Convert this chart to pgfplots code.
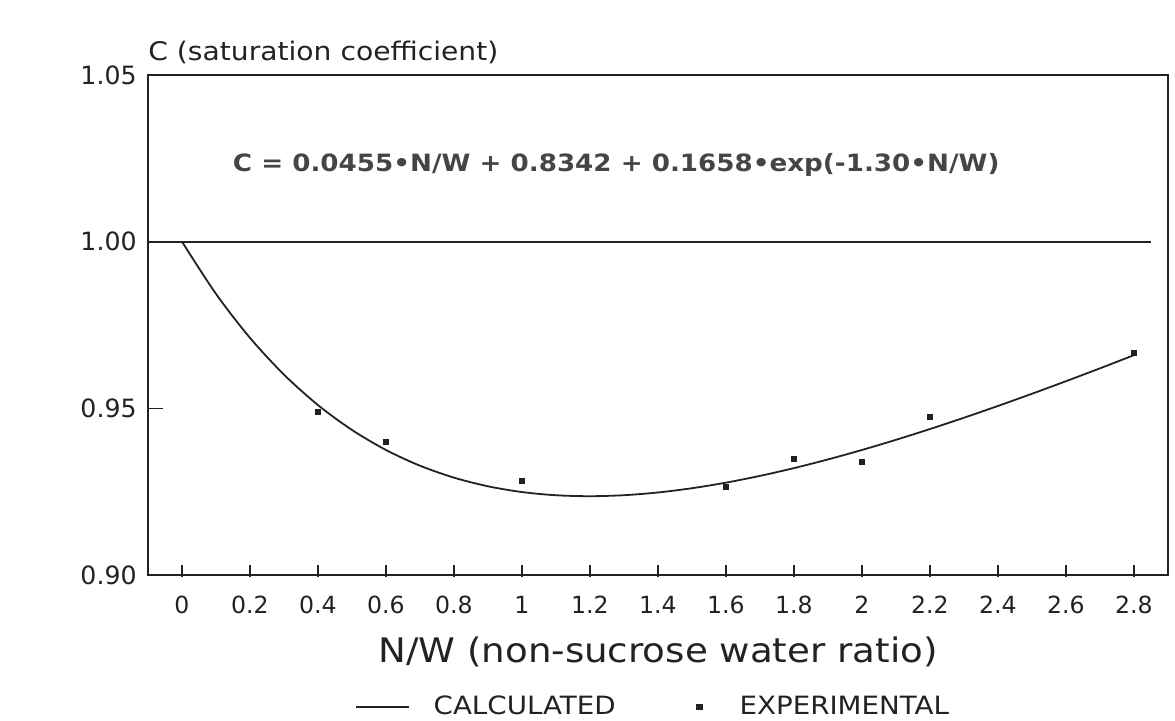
\documentclass[border=0pt]{standalone}
\usepackage{pgfplots}
\pgfplotsset{compat=1.18}
\usepackage{fontspec}
\setmainfont{DejaVu Sans}[FakeStretch=1.1]
\newfontfamily\tickfont{DejaVu Sans}
\definecolor{ink}{HTML}{222222}
\definecolor{eqink}{HTML}{454545}
\begin{document}
\begin{tikzpicture}
\useasboundingbox (-74pt,-72.5pt) rectangle (513.5pt,287.5pt);
\begin{axis}[
  at={(0,0)}, anchor=south west,
  width=510pt, height=250pt, scale only axis,
  xmin=-0.1, xmax=2.9, ymin=0.90, ymax=1.05,
  xtick={0,0.2,0.4,0.6,0.8,1,1.2,1.4,1.6,1.8,2,2.2,2.4,2.6,2.8},
  xticklabels={0,0.2,0.4,0.6,0.8,1,1.2,1.4,1.6,1.8,2,2.2,2.4,2.6,2.8},
  ytick={0.90,0.95,1.00,1.05},
  yticklabels={0.90,0.95,1.00,1.05},
  tick align=inside, tick pos=left,
  xtick style={/pgfplots/major tick length=6pt, yshift=-1pt, line width=0.8pt, color=ink},
  ytick style={/pgfplots/major tick length=7.5pt, line width=0.8pt, color=ink},
  axis line style={line width=1pt, color=ink},
  xticklabel style={anchor=base, inner sep=0pt, yshift=-19pt, font=\tickfont\fontsize{11.8}{13}\selectfont, text=ink},
  yticklabel style={anchor=east, inner sep=0pt, xshift=-5.5pt, font=\tickfont\fontsize{12.6}{14}\selectfont, text=ink},
  /pgf/number format/assume math mode=true,
  clip=false,
  legend columns=2,
  legend style={at={(0.203,-0.264)}, anchor=west, draw=none, fill=none,
    inner sep=0pt, outer sep=0pt,
    font=\fontsize{12.6}{15}\selectfont, text=ink,
    nodes={inner sep=0pt},
    /tikz/column 1/.style={column sep=12pt},
    /tikz/column 2/.style={column sep=39.5pt},
    /tikz/column 3/.style={column sep=18pt}},
]
% reference line C = 1
\addplot[line width=1pt, color=ink, forget plot] coordinates {(-0.1,1.0) (2.85,1.0)};
% calculated curve
\addplot[line width=0.9pt, color=ink, smooth,
  legend image code/.code={\draw[line width=0.8pt, color=ink] (0pt,0pt) -- (26.5pt,0pt);}]
coordinates {
(0.0,1.000000) (0.1,0.984338) (0.2,0.971140) (0.3,0.960106) (0.4,0.950972)
(0.5,0.943505) (0.6,0.937504) (0.7,0.932788) (0.8,0.929203) (0.9,0.926609)
(1.0,0.924886) (1.1,0.923927) (1.2,0.923641) (1.3,0.923943) (1.4,0.924764)
(1.5,0.926039) (1.6,0.927713) (1.7,0.929738) (1.8,0.932071) (1.9,0.934674)
(2.0,0.937515) (2.1,0.940563) (2.2,0.943795) (2.3,0.947188) (2.4,0.950721)
(2.5,0.954379) (2.6,0.958145) (2.7,0.962007) (2.8,0.965953)
};
\addlegendentry{CALCULATED}
% experimental points
\addplot[only marks, mark=square*, mark size=1.4pt, color=ink,
  legend image code/.code={\path (-2pt,0pt) (2pt,0pt); \draw[color=ink, fill=ink] plot[only marks, mark=square*, mark size=1.4pt] coordinates {(0pt,0pt)};}]
coordinates {
(0.4,0.9489) (0.6,0.9399) (1.0,0.9282) (1.6,0.9264)
(1.8,0.9348) (2.0,0.9339) (2.2,0.9474) (2.8,0.9666)
};
\addlegendentry{EXPERIMENTAL}
% title, equation, x label
\node[anchor=base west, inner sep=0pt, yshift=7.5pt, font=\fontsize{12.8}{15}\selectfont, text=ink]
  at (rel axis cs:0,1) {C (saturation coefficient)};
\node[anchor=center, inner sep=0pt, font=\bfseries\fontsize{11.9}{14}\selectfont, text=eqink]
  at (rel axis cs:0.459,0.82) {C = 0.0455•N/W + 0.8342 + 0.1658•exp(-1.30•N/W)};
\node[anchor=base, inner sep=0pt, yshift=-43.5pt, font=\fontsize{16.9}{19}\selectfont, text=ink]
  at (rel axis cs:0.5,0) {N/W (non-sucrose water ratio)};
\end{axis}
\end{tikzpicture}
\end{document}
